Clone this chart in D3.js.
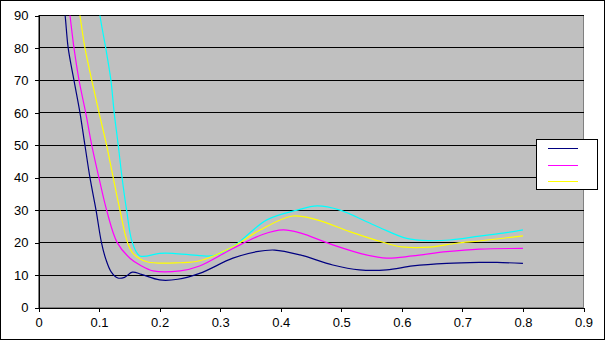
<!DOCTYPE html>
<html>
<head>
<meta charset="utf-8">
<script src="https://cdn.jsdelivr.net/npm/d3@7"></script>
<style>
  body { margin: 0; background: #fff; }
  text { font-family: "Liberation Sans", Arial, sans-serif; font-size: 13px; fill: #000; }
</style>
</head>
<body>
<svg width="605" height="340"></svg>
<script>
// series (x, y pairs per series)
var navyX = [0.040, 0.044, 0.049, 0.0586, 0.0685, 0.0767, 0.085, 0.095, 0.104, 0.111, 0.120, 0.131, 0.142, 0.155, 0.170, 0.200, 0.230, 0.266, 0.321, 0.360, 0.390, 0.432, 0.486, 0.530, 0.575, 0.618, 0.674, 0.728, 0.757, 0.800];
var navyY = [96, 90, 80, 70, 60, 50, 40, 30, 20, 15, 11, 9.1, 9.3, 10.9, 10.2, 8.5, 8.7, 10.5, 15.2, 17.2, 17.7, 16.2, 13.1, 11.6, 11.6, 12.8, 13.6, 13.9, 13.9, 13.6];

var magentaX = [0.048, 0.052, 0.0586, 0.067, 0.078, 0.088, 0.0998, 0.1125, 0.130, 0.151, 0.1675, 0.189, 0.234, 0.266, 0.321, 0.370, 0.404, 0.432, 0.486, 0.541, 0.575, 0.618, 0.674, 0.728, 0.800];
var magentaY = [96, 90, 80, 70, 60, 50, 40, 30, 20, 15.2, 13.1, 11.3, 11.3, 12.8, 18.2, 22.5, 23.9, 23, 19.3, 16.2, 15.2, 15.9, 17.2, 18.0, 18.2];

var yellowX = [0.064, 0.0685, 0.0767, 0.088, 0.100, 0.1125, 0.1234, 0.1345, 0.147, 0.156, 0.179, 0.234, 0.266, 0.321, 0.366, 0.420, 0.460, 0.514, 0.569, 0.600, 0.646, 0.690, 0.728, 0.773, 0.800];
var yellowY = [96, 90, 80, 70, 60, 50, 40, 30, 20, 16.7, 14.1, 13.8, 14.4, 18.7, 23.9, 28.2, 27, 23.4, 20.1, 18.7, 18.6, 19.8, 20.5, 21.5, 22.1];

var cyanX = [0.098, 0.1015, 0.111, 0.1196, 0.125, 0.1317, 0.138, 0.1455, 0.155, 0.1675, 0.200, 0.222, 0.266, 0.289, 0.321, 0.377, 0.427, 0.460, 0.498, 0.541, 0.564, 0.608, 0.646, 0.679, 0.728, 0.767, 0.800];
var cyanY = [96, 90, 80, 70, 60, 50, 40, 30, 20, 15.9, 16.7, 16.7, 16, 16, 18.7, 27, 30, 31.3, 30, 26.5, 24.6, 21.3, 20.6, 20.8, 22, 22.9, 23.9];

var series = [
  { name: "navy", xs: navyX, ys: navyY, color: "#000080", legend: true },
  { name: "magenta", xs: magentaX, ys: magentaY, color: "#ff00ff", legend: true },
  { name: "yellow", xs: yellowX, ys: yellowY, color: "#ffff00", legend: true },
  { name: "cyan", xs: cyanX, ys: cyanY, color: "#00ffff", legend: false }
];

var xTicks = [0, 0.1, 0.2, 0.3, 0.4, 0.5, 0.6, 0.7, 0.8, 0.9];
var yTicks = [0, 10, 20, 30, 40, 50, 60, 70, 80, 90];

var svg = d3.select("svg");

// chart border
svg.append("rect")
    .attr("x", 0.5).attr("y", 0.5)
    .attr("width", 604).attr("height", 339)
    .attr("fill", "#fff").attr("stroke", "#000");

var x = d3.scaleLinear().domain([0, 0.9]).range([38.5, 583.5]);
var y = d3.scaleLinear().domain([0, 90]).range([307.5, 15.5]);

// plot area
svg.append("rect")
    .attr("x", x(0)).attr("y", y(90))
    .attr("width", x(0.9) - x(0)).attr("height", y(0) - y(90))
    .attr("fill", "#c0c0c0")
    .attr("stroke", "#808080");

svg.append("defs").append("clipPath")
    .attr("id", "clip")
  .append("rect")
    .attr("x", x(0)).attr("y", y(90))
    .attr("width", x(0.9) - x(0)).attr("height", y(0) - y(90));

// gridlines
svg.append("g")
  .selectAll("line")
  .data(yTicks.filter(function (d) { return d > 0; }))
  .join("line")
    .attr("x1", x(0)).attr("x2", x(0.9))
    .attr("y1", function (d) { return y(d); })
    .attr("y2", function (d) { return y(d); })
    .attr("stroke", "#000")
    .attr("shape-rendering", "crispEdges");

// axes
var yAxis = svg.append("g")
    .attr("transform", "translate(" + x(0) + ",0)")
    .call(d3.axisLeft(y).tickValues(yTicks).tickSize(4).tickSizeOuter(0).tickPadding(6));

var xAxis = svg.append("g")
    .attr("transform", "translate(0," + y(0) + ")")
    .call(d3.axisBottom(x).tickValues(xTicks).tickSize(4).tickSizeOuter(0).tickPadding(6)
        .tickFormat(function (d) { return d === 0 ? "0" : d3.format(".1f")(d); }));

[yAxis, xAxis].forEach(function (a) {
    a.selectAll("path, line").attr("stroke", "#000").attr("shape-rendering", "crispEdges");
    a.selectAll("text").style("font-family", "'Liberation Sans', Arial, sans-serif").style("font-size", "13px").attr("fill", "#000");
});

// lines
var line = d3.line()
    .x(function (d) { return x(d[0]); })
    .y(function (d) { return y(d[1]); })
    .curve(d3.curveCatmullRom.alpha(0.5));

var lines = svg.append("g").attr("clip-path", "url(#clip)");

series.slice().reverse().forEach(function (s) {
    var pts = s.xs.map(function (v, i) { return [v, s.ys[i]]; });
    lines.append("path")
        .datum(pts)
        .attr("fill", "none")
        .attr("stroke", s.color)
        .attr("stroke-width", 1.2)
        .attr("d", line);
});

// legend
var legend = svg.append("g");
legend.append("rect")
    .attr("x", 536.5).attr("y", 139.5)
    .attr("width", 61).attr("height", 50)
    .attr("fill", "#fff").attr("stroke", "#000");

legend.selectAll("line")
  .data(series.filter(function (s) { return s.legend; }))
  .join("line")
    .attr("x1", 548).attr("x2", 578)
    .attr("y1", function (d, i) { return 148.5 + i * 16.5; })
    .attr("y2", function (d, i) { return 148.5 + i * 16.5; })
    .attr("stroke", function (d) { return d.color; })
    .attr("shape-rendering", "crispEdges");
</script>
</body>
</html>
